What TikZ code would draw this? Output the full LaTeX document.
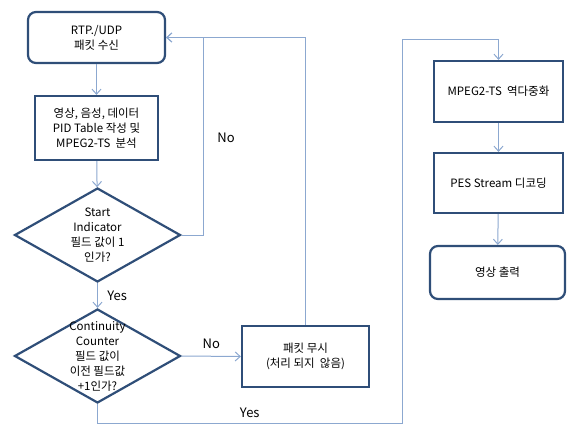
\documentclass[tikz,border=0pt]{standalone}
\usepackage{fontspec}
\setmainfont{Noto Sans CJK KR}
\usetikzlibrary{shapes.geometric,arrows.meta}
\definecolor{edge}{HTML}{2F4E78}
\definecolor{wire}{HTML}{8CA8D0}
\begin{document}
\begin{tikzpicture}[x=1pt, y=-1pt,
  box/.style={draw=edge, line width=2.2pt, fill=white, align=center,
              font=\fontsize{11.5}{15}\selectfont},
  rbox/.style={box, rounded corners=8pt},
  dia/.style={draw=edge, line width=2.2pt, diamond, aspect=1.77, inner sep=0pt,
              minimum width=166pt, minimum height=94pt},
  diatext/.style={align=center, font=\fontsize{11.5}{15}\selectfont},
  arr/.style={draw=wire, line width=1pt, -{Straight Barb[length=5pt, width=9pt]}},
  lbl/.style={font=\fontsize{13}{15}\selectfont},
]
  \useasboundingbox (0,0) rectangle (567,425);

  \node[rbox, minimum width=137pt, minimum height=51pt] (rtp) at (96.5,37.5) {RTP./UDP\\패킷 수신};
  \node[box, minimum width=123pt, minimum height=64pt] (pid) at (96.5,128) {영상, 음성, 데이터\\PID Table 작성 및\\MPEG2-TS~~분석};
  \node[dia] (start) at (97.5,235) {};
  \node[diatext] (startt) at (start) {Start\\Indicator\\필드 값이 1\\인가?};
  \node[dia] (cont) at (97.5,356) {};
  \node[diatext] (contt) at (cont) {Continuity\\Counter\\필드 값이\\이전 필드값\\+1인가?};
  \node[box, minimum width=127pt, minimum height=61pt] (drop) at (305.5,356.5) {패킷 무시\\(처리 되지~~않음)};

  \node[box, minimum width=129pt, minimum height=61pt] (demux) at (498.5,91.5) {MPEG2-TS~~역다중화};
  \node[box, minimum width=129pt, minimum height=60pt] (pes) at (498.5,183) {PES Stream 디코딩};
  \node[rbox, minimum width=135pt, minimum height=53pt] (out) at (497.5,272.5) {영상 출력};

  \coordinate (low) at (402,423.5);
  \coordinate (high) at (402,40);

  \draw[arr] (rtp) -- (pid);
  \draw[arr] (pid) -- (start);
  \draw[arr] (start) -- (cont) node[lbl, pos=0.5, right=6pt] {Yes};
  \draw[arr] (start.east) -- ++(22,0) |- (rtp.east) node[lbl, pos=0.245, right=10pt] {No};
  \draw[arr] (cont.east) -- (drop.west) node[lbl, midway, above=4pt] {No};
  \draw[arr] (drop.north) |- (rtp.east);
  \draw[arr] (cont.south) |- (low) node[lbl, pos=0.75, above=2pt] {Yes} -- (high) -| (demux.north);
  \draw[arr] (demux) -- (pes);
  \draw[arr] (pes) -- (out);
\end{tikzpicture}
\end{document}
